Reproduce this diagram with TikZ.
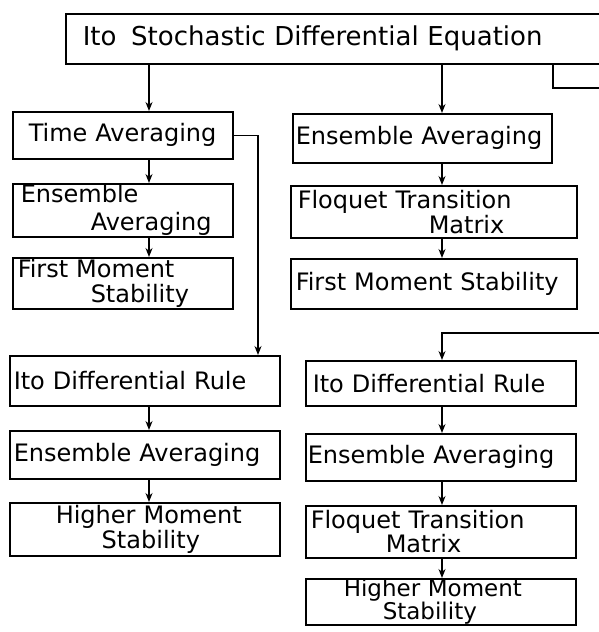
\documentclass[tikz,border=0pt]{standalone}
\usepackage{fontspec}
\setmainfont{DejaVu Sans}
\usetikzlibrary{arrows.meta}
\tikzset{
  box/.style={draw, line width=1.5pt, rectangle, inner sep=0pt, align=left,
    anchor=north west, font=\fontsize{24}{25}\selectfont},
  conn/.style={line width=1.4pt},
  arr/.style={line width=1.4pt, -{Stealth[length=9pt,width=7pt]}}
}
\begin{document}
\begin{tikzpicture}[x=1pt,y=-1pt]
\useasboundingbox (0,0) rectangle (598,632);
% top
\node[box, text width=545pt, minimum height=50pt, font=\fontsize{26}{28}\selectfont] (top) at (65,13)
  {\hspace*{17pt}Ito\hspace*{6pt} Stochastic Differential Equation};
% left upper column
\node[box, text width=220pt, minimum height=47pt] (L1) at (12,111) {\hspace*{16pt}Time Averaging};
\node[box, text width=220pt, minimum height=53pt, font=\fontsize{24}{28}\selectfont] (L2) at (12,183)
  {\hspace*{8pt}Ensemble\\\hspace*{78pt}Averaging};
\node[box, text width=220pt, minimum height=51pt] (L3) at (12,257)
  {\hspace*{5pt}First Moment\\\hspace*{78pt}Stability};
% middle upper column
\node[box, text width=259pt, minimum height=49pt] (M1) at (292,113) {\hspace*{3pt}Ensemble Averaging};
\node[box, text width=286pt, minimum height=52pt] (M2) at (290,185)
  {\hspace*{7pt}Floquet Transition\\\hspace*{138pt}Matrix};
\node[box, text width=286pt, minimum height=50pt] (M3) at (290,258) {\hspace*{5pt}First Moment Stability};
% left lower column
\node[box, text width=270pt, minimum height=50pt] (L4) at (9,355) {\hspace*{4pt}Ito Differential Rule};
\node[box, text width=270pt, minimum height=48pt] (L5) at (9,430) {\hspace*{4pt}Ensemble Averaging};
\node[box, text width=270pt, minimum height=53pt] (L6) at (9,502)
  {\hspace*{46pt}Higher Moment\\\hspace*{92pt}Stability};
% right lower column
\node[box, text width=270pt, minimum height=45pt] (R1) at (305,360) {\hspace*{7pt}Ito Differential Rule};
\node[box, text width=270pt, minimum height=47pt] (R2) at (305,433) {\hspace*{2pt}Ensemble Averaging};
\node[box, text width=270pt, minimum height=52pt, font=\fontsize{24}{23}\selectfont] (R3) at (305,505)
  {\hspace*{5pt}Floquet Transition\\\hspace*{80pt}Matrix};
\node[box, text width=270pt, minimum height=46pt, font=\fontsize{23}{20}\selectfont] (R4) at (305,578)
  {\hspace*{38pt}Higher Moment\\\hspace*{77pt}Stability};
% x positions of connectors
\coordinate (xL) at (149,0);
\coordinate (xM) at (442,0);
\coordinate (xJ) at (258,0);
\coordinate (xB) at (553,0);
\coordinate (bkR) at (602,88);
\coordinate (inR) at (602,333);
% connectors
\draw[arr] (top.south -| xL) -- (L1.north -| xL);
\draw[arr] (L1.south -| xL) -- (L2.north -| xL);
\draw[arr] (L2.south -| xL) -- (L3.north -| xL);
\draw[arr] (top.south -| xM) -- (M1.north -| xM);
\draw[arr] (M1.south -| xM) -- (M2.north -| xM);
\draw[arr] (M2.south -| xM) -- (M3.north -| xM);
\draw[arr] (L1.east) -| (L4.north -| xJ);
\draw[arr] (L4.south -| xL) -- (L5.north -| xL);
\draw[arr] (L5.south -| xL) -- (L6.north -| xL);
\draw[conn] (top.south -| xB) |- (bkR);
\draw[arr] (inR) -| (R1.north -| xM);
\draw[arr] (R1.south -| xM) -- (R2.north -| xM);
\draw[arr] (R2.south -| xM) -- (R3.north -| xM);
\draw[arr] (R3.south -| xM) -- (R4.north -| xM);
\end{tikzpicture}
\end{document}
